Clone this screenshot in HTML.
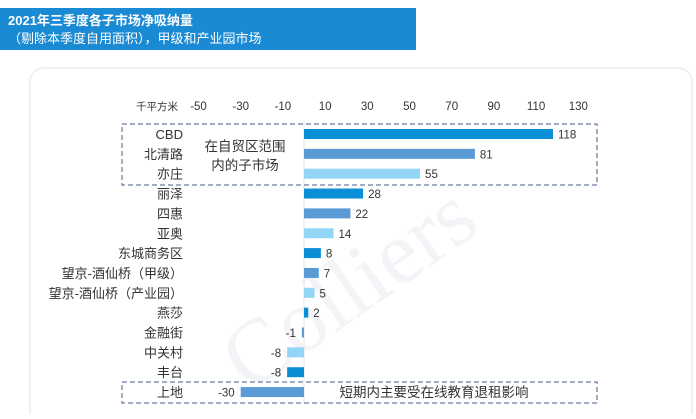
<!DOCTYPE html>
<html><head><meta charset="utf-8"><style>
body{margin:0;width:696px;height:414px;overflow:hidden;background:#fff;font-family:"Liberation Sans","Noto Sans CJK SC",sans-serif;}
</style></head><body>
<svg width="696" height="414" xmlns="http://www.w3.org/2000/svg">
<rect x="0" y="8" width="416" height="42" fill="#1a8ad4"/>
<text x="8" y="25" font-size="13" font-weight="bold" fill="#fff" font-family="Liberation Sans,Noto Sans CJK SC,sans-serif">2021年三季度各子市场净吸纳量</text>
<text x="8" y="43" font-size="13" fill="#fff" font-family="Liberation Sans,Noto Sans CJK SC,sans-serif">（剔除本季度自用面积），甲级和产业园市场</text>
<rect x="30" y="68" width="662" height="360" rx="14" fill="#fff" stroke="#f0f0f0" stroke-width="2"/>
<text x="210" y="330" font-size="90" fill="#f4f4f8" font-family="Liberation Serif,serif" transform="rotate(-35 330 300)">Colliers</text>
<text x="178" y="110" font-size="10.5" fill="#333" text-anchor="end">千平方米</text>
<g id="ticks"></g>
<line x1="304" y1="122" x2="304" y2="404" stroke="#e6e6e6"/>
<g id="bars"></g>
<rect x="122" y="124" width="475" height="61" fill="none" stroke="#4a5a8a" stroke-dasharray="5,3"/>
<text x="245" y="151" font-size="13.5" fill="#333" text-anchor="middle">在自贸区范围</text>
<text x="245" y="170" font-size="13.5" fill="#333" text-anchor="middle">内的子市场</text>
<rect x="122" y="382" width="475" height="21" fill="none" stroke="#4a5a8a" stroke-dasharray="5,3"/>
<text x="434" y="397" font-size="13.5" fill="#333" text-anchor="middle">短期内主要受在线教育退租影响</text>
</svg>
<script>
const categories=["CBD","北清路","亦庄","丽泽","四惠","亚奥","东城商务区","望京-酒仙桥（甲级）","望京-酒仙桥（产业园）","燕莎","金融街","中关村","丰台","上地"];
const values=[118,81,55,28,22,14,8,7,5,2,-1,-8,-8,-30];
const tickValues=[-50,-30,-10,10,30,50,70,90,110,130];
const colors=["#0a8fd6","#5b9bd5","#93d5f5"];
const NS="http://www.w3.org/2000/svg";
const x=v=>304+v*2.11;
const y=i=>134+i*19.85;
function mk(t,a,p){const e=document.createElementNS(NS,t);for(const k in a)e.setAttribute(k,a[k]);p.appendChild(e);return e;}
const tg=document.getElementById('ticks');
tickValues.forEach(v=>{const t=mk('text',{x:x(v),y:110,'font-size':11.5,fill:'#333','text-anchor':'middle'},tg);t.textContent=v;

});
const bg=document.getElementById('bars');
categories.forEach((c,i)=>{
 const v=values[i],cy=y(i);
 const l=mk('text',{x:183,y:cy+5,'font-size':13,fill:'#333','text-anchor':'end'},bg);l.textContent=c;
 
 
 const x0=Math.min(x(0),x(v)),w=Math.max(Math.abs(x(v)-x(0)),1.5);
 const r=mk('rect',{x:x0,y:cy-5,width:w,height:10,fill:colors[i%3]},bg);
 
 
 const vl=mk('text',{x:v>=0?x(v)+5:x(v)-6,y:cy+4.5,'font-size':11.5,fill:'#333','text-anchor':v>=0?'start':'end'},bg);vl.textContent=v;
 
 
});
</script>
</body></html>
